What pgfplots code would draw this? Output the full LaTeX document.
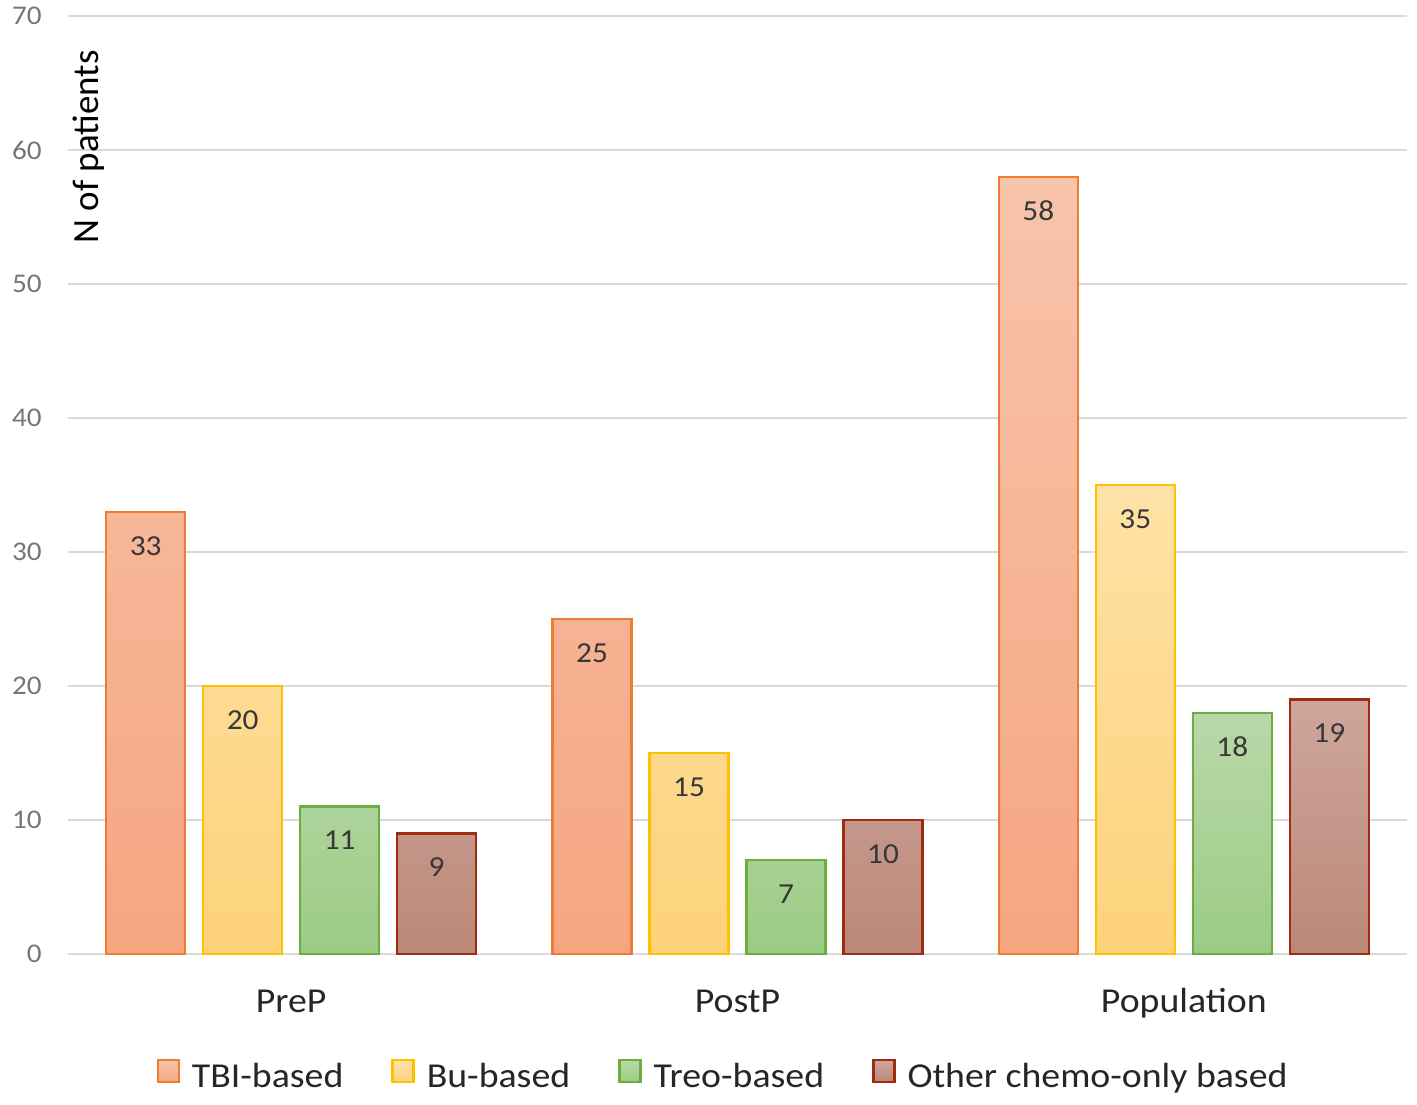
\documentclass[border=0pt]{standalone}
\usepackage{fontspec}
\setmainfont{Carlito}[FakeStretch=1.08]
\newfontfamily\plainfont{Carlito}
\usepackage{pgfplots}
\pgfplotsset{compat=1.18}
\definecolor{tbiE}{RGB}{237,125,49}
\definecolor{tbiT}{RGB}{247,196,172}
\definecolor{tbiB}{RGB}{246,165,128}
\definecolor{buE}{RGB}{255,192,0}
\definecolor{buT}{RGB}{254,226,166}
\definecolor{buB}{RGB}{253,210,122}
\definecolor{trE}{RGB}{106,174,62}
\definecolor{trT}{RGB}{184,216,168}
\definecolor{trB}{RGB}{156,203,134}
\definecolor{otE}{RGB}{160,43,16}
\definecolor{otT}{RGB}{207,166,156}
\definecolor{otB}{RGB}{186,136,120}
\definecolor{gridc}{RGB}{217,217,217}
\definecolor{tickc}{RGB}{118,118,118}
\definecolor{labc}{RGB}{55,55,55}
\definecolor{txtc}{RGB}{38,38,38}
\begin{document}
\begin{tikzpicture}
\begin{axis}[
  scale only axis,
  width=669.5pt, height=469pt,
  xmin=-0.5, xmax=2.5, ymin=0, ymax=70,
  ybar=9pt, bar width=39.5pt,
  xtick={0,1,2}, xticklabels={PreP,PostP,Population},
  ytick={0,10,...,70},
  major tick length=0pt,
  axis line style={draw=none},
  ymajorgrids, grid style={gridc, line width=1pt},
  /pgf/number format/assume math mode=true,
  yticklabel style={anchor=east, inner sep=0pt, xshift=-13pt, text=tickc, font=\fontsize{13.5}{15}\selectfont},
  xticklabel style={anchor=base, inner sep=0pt, yshift=-29pt, text=txtc, font=\fontsize{17.5}{20}\selectfont},
  nodes near coords,
  every node near coord/.append style={anchor=center, yshift=-17pt, text=labc, font=\fontsize{14.5}{16}\selectfont},
  clip=false,
  legend image code/.code={\draw[#1, line width=1.2pt] (0pt,-2.5pt) rectangle (10.5pt,8.5pt);},
  legend columns=-1,
  legend style={draw=none, fill=none, at={(328pt,-61.5pt)}, anchor=center, text=txtc,
    font=\fontsize{17.5}{20}\selectfont, inner sep=0pt,
    /tikz/every even column/.append style={column sep=22pt},
    /tikz/every odd column/.append style={column sep=4pt}},
]
\addplot[draw=tbiE, line width=1.25pt, top color=tbiT, bottom color=tbiB] coordinates {(0,33) (1,25) (2,58)};
\addplot[draw=buE, line width=1.25pt, top color=buT, bottom color=buB] coordinates {(0,20) (1,15) (2,35)};
\addplot[draw=trE, line width=1.25pt, top color=trT, bottom color=trB] coordinates {(0,11) (1,7) (2,18)};
\addplot[draw=otE, line width=1.25pt, top color=otT, bottom color=otB] coordinates {(0,9) (1,10) (2,19)};
\legend{TBI-based, Bu-based, Treo-based, Other chemo-only based}
\node[rotate=90, anchor=east, inner sep=0pt, text=black, font=\plainfont\fontsize{18.5}{20}\selectfont] at (axis description cs:0.0157,0.9637) {N of patients};
\end{axis}
\pgfresetboundingbox
\path[use as bounding box] (-34pt,-75pt) rectangle (674.5pt,477pt);
\end{tikzpicture}
\end{document}
